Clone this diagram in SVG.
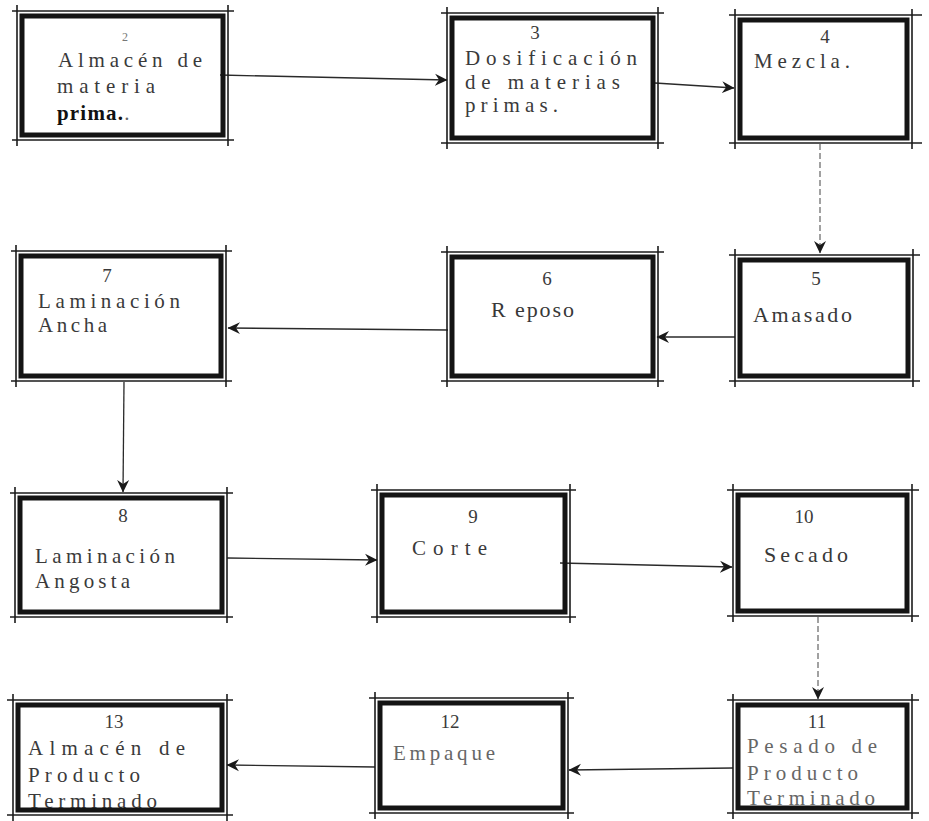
<svg xmlns="http://www.w3.org/2000/svg" width="929" height="821" viewBox="0 0 929 821">
<style>
.bg{fill:#fff}
.outer{fill:none;stroke:#1c1c1c;stroke-width:1.6}
.inner{fill:none;stroke:#141414;stroke-width:5}
.t{font-family:"Liberation Serif","DejaVu Serif",serif;font-size:21px;fill:#3a3a3a}
.n{font-family:"Liberation Serif","DejaVu Serif",serif;font-size:19px;fill:#3a3a3a;text-anchor:middle}
.s{font-family:"Liberation Serif","DejaVu Serif",serif;font-size:22px;fill:#383838}
.f{fill:#666}
.b{font-weight:bold;fill:#111}
.c{fill:none;stroke:#2a2a2a;stroke-width:1.3}
.cl{fill:none;stroke:#555;stroke-width:1.1}
</style>
<defs>
<marker id="ah" markerUnits="userSpaceOnUse" markerWidth="14" markerHeight="14" refX="12" refY="7" orient="auto">
<path d="M0,1 L12.5,7 L0,13 L4,7 z" fill="#1a1a1a"/>
</marker>
</defs>
<rect class="bg" x="0" y="0" width="929" height="821"/>

<g id="connectors">
<path class="c" d="M220,75 L447,80" marker-end="url(#ah)"/>
<path class="c" d="M655,83 L734,88" marker-end="url(#ah)"/>
<path class="cl" d="M820,144 L820,253" stroke-dasharray="6,3" marker-end="url(#ah)"/>
<path class="c" d="M735,337 L657,337" marker-end="url(#ah)"/>
<path class="c" d="M448,330 L228,328" marker-end="url(#ah)"/>
<path class="c" d="M124,382 L123,492" marker-end="url(#ah)"/>
<path class="c" d="M227,558 L377,560" marker-end="url(#ah)"/>
<path class="c" d="M560,563 L732,567" marker-end="url(#ah)"/>
<path class="cl" d="M818,617 L818,699" stroke-dasharray="6,3" marker-end="url(#ah)"/>
<path class="c" d="M733,768 L569,770" marker-end="url(#ah)"/>
<path class="c" d="M375,767 L227,765" marker-end="url(#ah)"/>
</g>

<g id="n2">
<text class="n" x="125" y="41" style="font-size:12px;fill:#777">2</text>
<text class="t" x="58" y="67" textLength="144" lengthAdjust="spacing">Almacén de</text>
<text class="t" x="57" y="93" textLength="98" lengthAdjust="spacing">materia</text>
<text class="t" x="57" y="120"><tspan class="b" textLength="66" lengthAdjust="spacing">prima.</tspan><tspan class="f">.</tspan></text>
<path class="outer" d="M12,11H234M12,140H234M17,5V146M228,5V146"/>
<rect class="inner" x="22" y="16" width="201" height="119"/>
</g>

<g id="n3">
<text class="n" x="535" y="39">3</text>
<text class="t" x="465" y="65" textLength="172" lengthAdjust="spacing">Dosificación</text>
<text class="t" x="465" y="89" textLength="155" lengthAdjust="spacing">de materias</text>
<text class="t" x="465" y="112" textLength="93" lengthAdjust="spacing">primas.</text>
<path class="outer" d="M441,13H664M441,143H664M447,7V149M658,7V149"/>
<rect class="inner" x="452" y="18" width="201" height="120"/>
</g>

<g id="n4">
<text class="n" x="825" y="43">4</text>
<text class="t" x="754" y="68" textLength="96" lengthAdjust="spacing">Mezcla.</text>
<path class="outer" d="M729,15H922M729,143H922M735,9V149M912,9V149"/>
<rect class="inner" x="740" y="20" width="167" height="118"/>
</g>

<g id="n5">
<text class="n" x="816" y="285">5</text>
<text class="s" x="753" y="322" textLength="99" lengthAdjust="spacing">Amasado</text>
<path class="outer" d="M729,255H920M729,381H920M735,249V387M913,249V387"/>
<rect class="inner" x="740" y="260" width="168" height="116"/>
</g>

<g id="n6">
<text class="n" x="547" y="285">6</text>
<text class="s" x="491" y="317" textLength="83" lengthAdjust="spacing">R eposo</text>
<path class="outer" d="M441,252H664M441,381H664M447,246V387M658,246V387"/>
<rect class="inner" x="452" y="257" width="201" height="119"/>
</g>

<g id="n7">
<text class="n" x="107" y="282">7</text>
<text class="t" x="38" y="308" textLength="142" lengthAdjust="spacing">Laminación</text>
<text class="t" x="38" y="332" textLength="69" lengthAdjust="spacing">Ancha</text>
<path class="outer" d="M11,251H232M11,381H232M16,245V387M226,245V387"/>
<rect class="inner" x="21" y="256" width="200" height="120"/>
</g>

<g id="n8">
<text class="n" x="123" y="522">8</text>
<text class="t" x="35" y="563" textLength="140" lengthAdjust="spacing">Laminación</text>
<text class="t" x="35" y="588" textLength="95" lengthAdjust="spacing">Angosta</text>
<path class="outer" d="M10,493H233M10,617H233M15,487V623M227,487V623"/>
<rect class="inner" x="20" y="498" width="202" height="114"/>
</g>

<g id="n9">
<text class="n" x="473" y="523">9</text>
<text class="t" x="412" y="555" textLength="75" lengthAdjust="spacing">Corte</text>
<path class="outer" d="M371,490H576M371,617H576M377,484V623M570,484V623"/>
<rect class="inner" x="382" y="495" width="183" height="117"/>
</g>

<g id="n10">
<text class="n" x="804" y="523">10</text>
<text class="s" x="764" y="562" textLength="84" lengthAdjust="spacing">Secado</text>
<path class="outer" d="M727,490H919M727,616H919M733,484V622M912,484V622"/>
<rect class="inner" x="738" y="495" width="169" height="116"/>
</g>

<g id="n11">
<text class="n" x="817" y="728">11</text>
<text class="t f" x="747" y="753" textLength="130" lengthAdjust="spacing">Pesado de</text>
<text class="t f" x="747" y="780" textLength="111" lengthAdjust="spacing">Producto</text>
<text class="t f" x="747" y="805" textLength="128" lengthAdjust="spacing">Terminado</text>
<path class="outer" d="M727,700H919M727,813H919M733,694V819M912,694V819"/>
<rect class="inner" x="738" y="705" width="169" height="103"/>
</g>

<g id="n12">
<text class="n" x="450" y="728">12</text>
<text class="t f" x="393" y="760" textLength="102" lengthAdjust="spacing">Empaque</text>
<path class="outer" d="M369,698H574M369,813H574M375,692V819M568,692V819"/>
<rect class="inner" x="380" y="703" width="183" height="105"/>
</g>

<g id="n13">
<text class="n" x="114" y="728">13</text>
<text class="t" x="28" y="755" textLength="157" lengthAdjust="spacing">Almacén  de</text>
<text class="t" x="28" y="782" textLength="112" lengthAdjust="spacing">Producto</text>
<text class="t" x="28" y="808" textLength="129" lengthAdjust="spacing">Terminado</text>
<path class="outer" d="M7,700H233M7,815H233M13,694V821M227,694V821"/>
<rect class="inner" x="18" y="705" width="204" height="105"/>
</g>
</svg>
